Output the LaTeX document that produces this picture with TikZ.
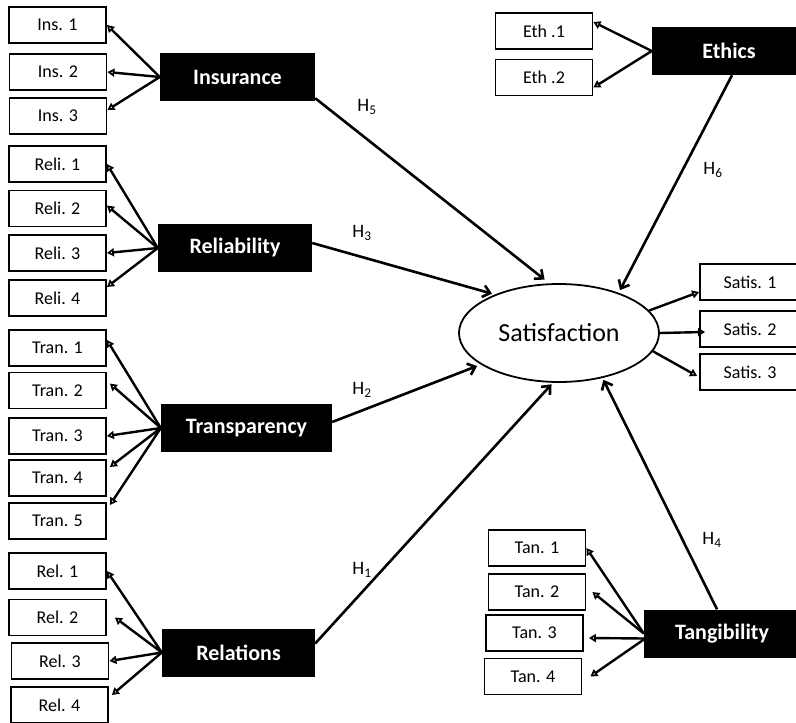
\documentclass[tikz,border=0pt]{standalone}
\usepackage{fontspec}
\setmainfont{Carlito}
\usetikzlibrary{arrows.meta, shapes.geometric}
\tikzset{
  ind/.style={rectangle, draw=black, line width=1.8pt, minimum width=97pt,
              minimum height=36pt, inner sep=0pt, font=\fontsize{18}{21}\selectfont},
  lat/.style={rectangle, fill=black, text=white, minimum height=48pt, inner sep=0pt,
              font=\bfseries\fontsize{22}{25}\selectfont},
  arrowI/.style={-{Triangle[open, length=7pt, width=8pt]}, line width=2.4pt},
  arrowH/.style={-{Straight Barb[length=7pt, width=12pt]}, line width=2.6pt},
  hlab/.style={inner sep=0pt, font=\fontsize{19}{21}\selectfont},
}
\begin{document}
\begin{tikzpicture}[x=1pt, y=-1pt]
    \useasboundingbox (0,0) rectangle (796,723);
    \node[ind] (ins1) at (57.5,25) {Ins. 1};
    \node[ind] (ins2) at (58,72) {Ins. 2};
    \node[ind] (ins3) at (58,116) {Ins. 3};
    \node[ind] (reli1) at (57.5,164) {Reli. 1};
    \node[ind] (reli2) at (57.5,208.5) {Reli. 2};
    \node[ind] (reli3) at (57.5,253) {Reli. 3};
    \node[ind] (reli4) at (57.5,298) {Reli. 4};
    \node[ind] (tran1) at (57.5,348) {Tran. 1};
    \node[ind] (tran2) at (57.5,390.5) {Tran. 2};
    \node[ind] (tran3) at (57.5,436) {Tran. 3};
    \node[ind] (tran4) at (57.5,478) {Tran. 4};
    \node[ind] (tran5) at (57.5,521) {Tran. 5};
    \node[ind] (rel1) at (57.5,571) {Rel. 1};
    \node[ind] (rel2) at (57.5,617.5) {Rel. 2};
    \node[ind] (rel3) at (60,661) {Rel. 3};
    \node[ind] (rel4) at (59.5,705) {Rel. 4};
    \node[ind] (eth1) at (544,31) {Eth .1};
    \node[ind] (eth2) at (544,77.5) {Eth .2};
    \node[ind, minimum width=100pt] (sat1) at (750,282) {Satis. 1};
    \node[ind, minimum width=100pt] (sat2) at (750,329) {Satis. 2};
    \node[ind, minimum width=100pt] (sat3) at (750,372) {Satis. 3};
    \node[ind] (tan1) at (537,548) {Tan. 1};
    \node[ind] (tan2) at (537,592) {Tan. 2};
    \node[ind] (tan3) at (534.5,633) {Tan. 3};
    \node[ind] (tan4) at (533,676.5) {Tan. 4};
    \node[lat, minimum width=155pt] (ins) at (237.5,77) {Insurance};
    \node[lat, minimum width=154pt] (reli) at (235,248) {Reliability};
    \node[lat, minimum width=171pt] (tran) at (246.5,428) {Transparency};
    \node[lat, minimum width=153pt] (rel) at (238.5,652.5) {Relations};
    \node[lat, minimum width=154pt] (eth) at (729,51) {Ethics};
    \node[lat, minimum width=156pt] (tang) at (722,633.5) {Tangibility};
    \node[ellipse, draw, line width=1.8pt, minimum width=200pt, minimum height=98pt,
          font=\fontsize{26}{30}\selectfont] (sat) at (559,333) {Satisfaction};
    \draw[arrowI] (ins.west) -- (ins1.east); \draw[arrowI] (ins.west) -- (ins2.east);
    \draw[arrowI] (ins.west) -- ([yshift=6pt]ins3.east);
    \draw[arrowI] (reli.west) -- (reli1.east); \draw[arrowI] (reli.west) -- ([yshift=3pt]reli2.east);
    \draw[arrowI] (reli.west) -- (reli3.east); \draw[arrowI] (reli.west) -- ([yshift=11pt]reli4.east);
    \draw[arrowI] (tran.west) -- ([yshift=8pt]tran1.east); \draw[arrowI] (tran.west) -- ([xshift=3pt,yshift=7pt]tran2.east);
    \draw[arrowI] (tran.west) -- (tran3.east); \draw[arrowI] (tran.west) -- ([xshift=3pt,yshift=11pt]tran4.east);
    \draw[arrowI] (tran.west) -- ([xshift=3pt,yshift=16pt]tran5.east);
    \draw[arrowI] (rel.west) -- (rel1.east); \draw[arrowI] (rel.west) -- ([xshift=8pt]rel2.east);
    \draw[arrowI] (rel.west) -- (rel3.east); \draw[arrowI] (rel.west) -- ([xshift=3pt,yshift=10pt]rel4.east);
    \draw[arrowI] (eth.west) -- ([yshift=9pt]eth1.east); \draw[arrowI] (eth.west) -- ([yshift=-10pt]eth2.east);
    \draw[arrowI] (tang.west) -- (tan1.east); \draw[arrowI] (tang.west) -- ([xshift=6pt]tan2.east);
    \draw[arrowI] ([yshift=-5pt]tang.west) -- ([xshift=5pt,yshift=-5pt]tan3.east);
    \draw[arrowI] ([yshift=-6pt]tang.west) -- ([xshift=8pt]tan4.east);
    \draw[arrowI] (sat.14) -- ([yshift=-10pt]sat1.west); \draw[arrowI] (sat.east) -- ([xshift=6pt,yshift=-3pt]sat2.west);
    \draw[arrowI] (sat.-11) -- ([xshift=-2pt,yshift=-4pt]sat3.west);
    \draw[arrowH, shorten >=6pt] ([yshift=3pt]ins.south east) -- (sat.101);
    \draw[arrowH, shorten >=3pt] ([yshift=5pt]reli.east) -- (sat.149);
    \draw[arrowH, shorten >=4pt] ([yshift=6pt]tran.east) -- (sat.202);
    \draw[arrowH, shorten >=2pt] ([yshift=9pt]rel.east) -- (sat.263);
    \draw[arrowH, shorten >=3pt] ([xshift=3pt]eth.south) -- (sat.34);
    \draw[arrowH, shorten >=2pt] ([xshift=-5pt]tang.north) -- (sat.314);
    \node[hlab] (h5) at (367,107) {H\textsubscript{5}};
    \node[hlab] (h3) at (362,233) {H\textsubscript{3}};
    \node[hlab] (h2) at (362,390) {H\textsubscript{2}};
    \node[hlab] (h1) at (362,570) {H\textsubscript{1}};
    \node[hlab] (h6) at (713,170) {H\textsubscript{6}};
    \node[hlab] (h4) at (712,540) {H\textsubscript{4}};
\end{tikzpicture}
\end{document}
